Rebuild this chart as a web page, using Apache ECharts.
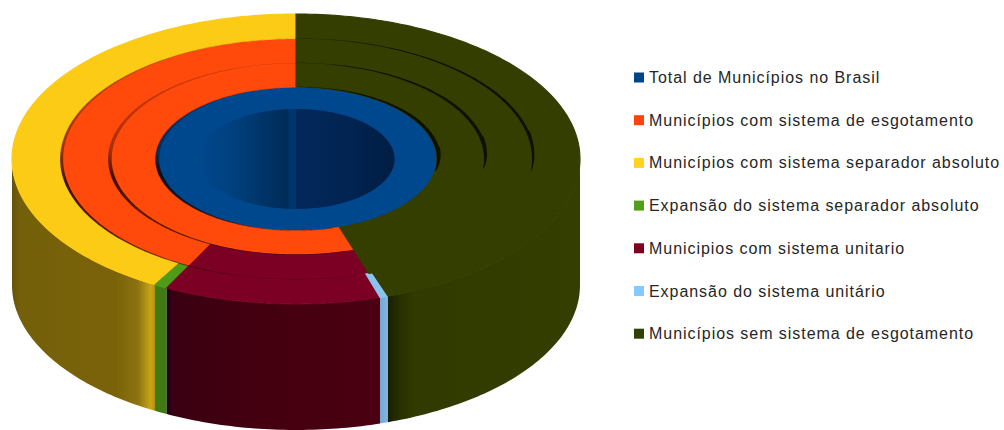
<!DOCTYPE html>
<html>
<head>
<meta charset="utf-8">
<style>
html,body{margin:0;padding:0;background:#fff}
#chart{width:1004px;height:430px}
#chart text{letter-spacing:0.95px}
</style>
<script src="https://cdn.jsdelivr.net/npm/echarts@6/dist/echarts.min.js"></script>
</head>
<body>
<div id="chart"></div>
<script>
// Legend entries, in display order
const categories = [
  'Total de Municípios no Brasil',
  'Municípios com sistema de esgotamento',
  'Municípios com sistema separador absoluto',
  'Expansão do sistema separador absoluto',
  'Municipios com sistema unitario',
  'Expansão do sistema unitário',
  'Municípios sem sistema de esgotamento'
];

// Share of each ring (percent), clockwise from 12 o'clock, as [category index, share]
const ringTotal    = [[0, 100]];
const ringSewer    = [[6, 45], [1, 55]];
const ringUnitary  = [[6, 45], [4, 12.5], [1, 42.5]];
const ringOuter    = [[6, 44.75], [5, 0.47], [4, 12.3], [3, 0.75], [2, 41.73]];

// Ring radii on the unit disc, inner to outer
const ringRadii = [0.349, 0.496, 0.662, 0.831, 1];
const rings = [ringTotal, ringSewer, ringUnitary, ringOuter];

const legendColors = ['#004586', '#ff420e', '#ffd320', '#579d1c', '#7e0021', '#83caff', '#314004'];
const topColors = ['#00488e', '#ff4a0c', '#fccb16', '#4f9a16', '#7c0024', '#8ac4ee', '#343e00'];

// Shading of the outer wall for each category, left to right
const wallStops = {
  2: [[0, '#665208'], [0.06, '#74600a'], [0.72, '#7a6209'], [0.88, '#8c7210'], [0.97, '#c8a418'], [1, '#b0900f']],
  3: [[0, '#3f7a12'], [1, '#3f7a12']],
  4: [[0, '#220016'], [0.035, '#3a0012'], [0.5, '#45000f'], [1, '#4a0012']],
  5: [[0, '#76a8d4'], [1, '#82b6e0']],
  6: [[0, '#172000'], [0.06, '#273000'], [0.14, '#313a00'], [1, '#343e00']]
};

// Inner wall of the central hole, left and right of the seam
const holeLeft  = [[0, '#00488e'], [0.35, '#004180'], [0.7, '#003366'], [0.92, '#002b58'], [0.93, '#00366e'], [1, '#00366e']];
const holeRight = [[0, '#03285a'], [0.5, '#012452'], [1, '#011d42']];

// Cylinder height in unit-disc units, and the extent of the y axis that follows from it
const wallDrop = 0.87;

const arc = (api, r, a0, a1, drop) => {
  const pts = [];
  const steps = Math.max(2, Math.ceil(a1 - a0));
  for (let i = 0; i <= steps; i++) {
    const a = (a0 + (a1 - a0) * i / steps) * Math.PI / 180;
    pts.push(api.coord([r * Math.sin(a), r * Math.cos(a) - (drop || 0)]));
  }
  return pts;
};

const gradient = stops => ({
  type: 'linear', x: 0, y: 0, x2: 1, y2: 0,
  colorStops: stops.map(s => ({ offset: s[0], color: s[1] }))
});

const poly = (points, fill, seam) => ({
  type: 'polygon',
  shape: { points },
  style: { fill, stroke: seam || null, lineWidth: seam ? 1.1 : 0 }
});

function renderSlice(cat) {
  return function (params, api) {
    const r0 = api.value(0), r1 = api.value(1);
    const a0 = api.value(2) * 3.6, a1 = api.value(3) * 3.6;
    const children = [];
    // The outer wall shows only on the front half of the cylinder
    if (r1 === 1) {
      const w0 = Math.max(a0, 90), w1 = Math.min(a1, 270);
      if (w1 > w0) {
        const pts = arc(api, 1, w0, w1).concat(arc(api, 1, w0, w1, wallDrop).reverse());
        children.push(poly(pts, gradient(wallStops[cat])));
      }
    }
    const top = arc(api, r1, a0, a1).concat(arc(api, r0, a0, a1).reverse());
    children.push(poly(top, topColors[cat], topColors[cat]));
    return { type: 'group', children };
  };
}

// Slices of every category, with start and end as cumulative percent
const sliceData = categories.map(() => []);
rings.forEach((ring, i) => {
  let acc = 0;
  ring.forEach(([cat, share]) => {
    sliceData[cat].push([ringRadii[i], ringRadii[i + 1], acc, acc + share]);
    acc += share;
  });
});

const base = { type: 'custom', coordinateSystem: 'cartesian2d', silent: true, clip: false, animation: false };

const series = categories.map((name, cat) => Object.assign({}, base, {
  name,
  z: 2,
  itemStyle: { color: legendColors[cat] },
  data: sliceData[cat],
  renderItem: renderSlice(cat)
}));

// Back wall of the hole, seen through the central opening; it runs slightly under the ring's rim
series.push(Object.assign({}, base, {
  name: 'hole',
  z: 1,
  data: [[0]],
  renderItem(params, api) {
    const r = ringRadii[0] * 1.015;
    const c = api.coord([0, 0]);
    return { type: 'group', children: [
      poly([c].concat(arc(api, r, 180, 360)), gradient(holeLeft)),
      poly([c].concat(arc(api, r, 0, 180)), gradient(holeRight))
    ]};
  }
}));

// Dark creases where the rings meet: [radius, start, end, radial width]; a negative width runs inward
const creaseRight = [[0.831, 0.5, 96, 0.011], [0.662, 0.5, 96, 0.013], [0.496, 0.5, 100, 0.014]];
const creaseLeft  = [[0.831, 165, 359.5, -0.011], [0.662, 165, 359.5, -0.013], [0.496, 165, 359.5, -0.014]];

series.push(Object.assign({}, base, {
  name: 'creases',
  z: 3,
  data: creaseRight.concat(creaseLeft),
  renderItem(params, api) {
    const r = api.value(0), a0 = api.value(1), a1 = api.value(2), w = api.value(3);
    const outer = [], inner = [];
    const steps = Math.ceil(a1 - a0);
    for (let i = 0; i <= steps; i++) {
      const t = i / steps;
      const a = (a0 + (a1 - a0) * t) * Math.PI / 180;
      const s = Math.sin(a), c = Math.cos(a);
      // Tapers toward the ends of each crease
      const taper = Math.pow(Math.sin(Math.PI * Math.min(1, t * 0.98 + 0.02)), 0.5);
      const rr = r + w * (w > 0 ? Math.max(0.15, Math.min(1, Math.abs(s) * 1.2)) * (t > 0.8 ? taper * 1.6 : 1) : Math.max(0.2, Math.abs(s)));
      outer.push(api.coord([r * s, r * c]));
      inner.push(api.coord([rr * s, rr * c]));
    }
    const fill = w > 0 ? 'rgba(0,0,0,0.72)' : {
      type: 'linear', x: 0, y: 0, x2: 0, y2: 1,
      colorStops: [
        { offset: 0, color: 'rgba(40,0,0,0.2)' },
        { offset: 0.45, color: 'rgba(30,0,0,0.38)' },
        { offset: 0.6, color: 'rgba(20,0,0,0.8)' },
        { offset: 1, color: 'rgba(20,0,0,0.55)' }
      ]
    };
    return poly(outer.concat(inner.reverse()), fill);
  }
}));

const chart = echarts.init(document.getElementById('chart'), null, { renderer: 'svg' });
chart.setOption({
  backgroundColor: '#fff',
  animation: false,
  grid: { left: 12, top: 14, width: 568, height: 146 * (2 + wallDrop) },
  xAxis: { type: 'value', min: -1, max: 1, show: false },
  yAxis: { type: 'value', min: -1 - wallDrop, max: 1, show: false },
  legend: {
    orient: 'vertical',
    left: 629,
    top: 63.5,
    itemGap: 24.7,
    itemWidth: 10,
    itemHeight: 10,
    icon: 'rect',
    selectedMode: false,
    data: categories,
    textStyle: { fontFamily: '"Liberation Sans", Arial, sans-serif', fontSize: 16, color: '#262626', lineHeight: 18 }
  },
  series
});
</script>
</body>
</html>
